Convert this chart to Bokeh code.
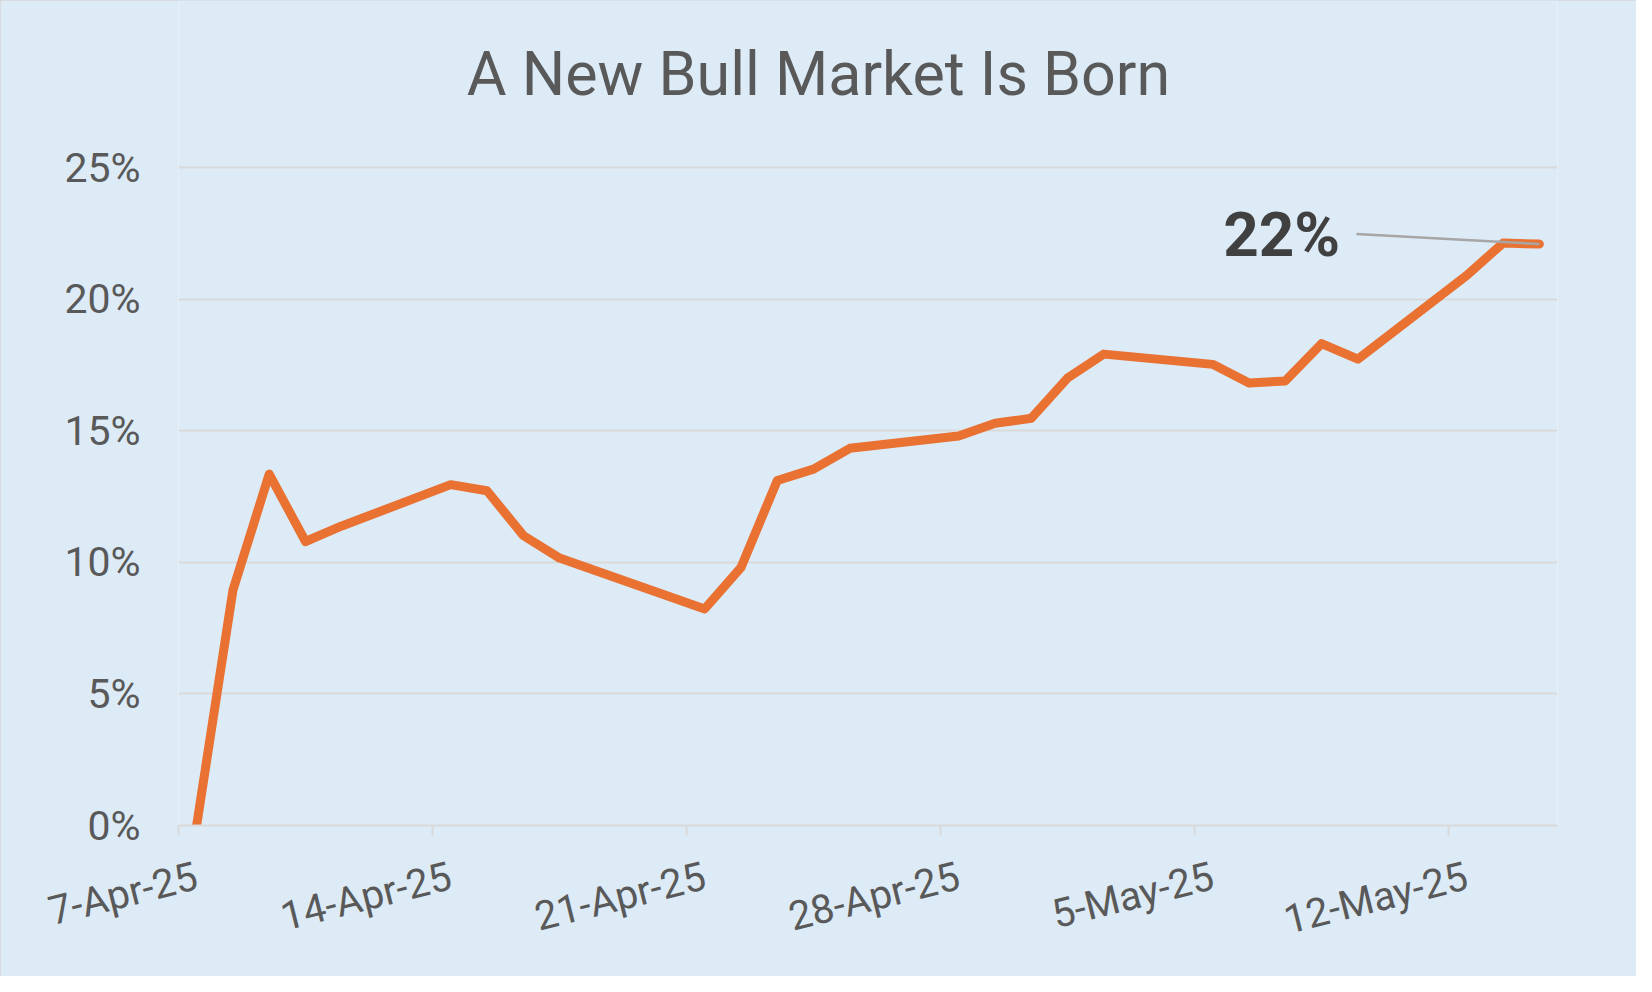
import pandas as pd
from bokeh.plotting import figure
from bokeh.models import FixedTicker, Range1d, DatetimeAxis
from bokeh.core.properties import value
from bokeh.embed import file_html
from bokeh.resources import INLINE
import math

# ---- data ----
dates = ["2025-04-07", "2025-04-08", "2025-04-09", "2025-04-10", "2025-04-11",
         "2025-04-14", "2025-04-15", "2025-04-16", "2025-04-17",
         "2025-04-21", "2025-04-22", "2025-04-23", "2025-04-24", "2025-04-25",
         "2025-04-28", "2025-04-29", "2025-04-30", "2025-05-01", "2025-05-02",
         "2025-05-05", "2025-05-06", "2025-05-07", "2025-05-08", "2025-05-09",
         "2025-05-12", "2025-05-13", "2025-05-14"]
gain_pct = [0.0, 8.94, 13.35, 10.79, 11.38,
            12.95, 12.72, 11.02, 10.16,
            8.23, 9.80, 13.11, 13.54, 14.33,
            14.80, 15.28, 15.47, 17.00, 17.91,
            17.52, 16.81, 16.89, 18.31, 17.72,
            20.90, 22.13, 22.09]
tick_dates = ["2025-04-07", "2025-04-14", "2025-04-21", "2025-04-28", "2025-05-05", "2025-05-12"]
tick_labels = ["7-Apr-25", "14-Apr-25", "21-Apr-25", "28-Apr-25", "5-May-25", "12-May-25"]
y_ticks = [0, 5, 10, 15, 20, 25]
y_tick_labels = ["0%", "5%", "10%", "15%", "20%", "25%"]
title_text = "A New Bull Market Is Born"
axis_start, axis_end = "2025-04-07", "2025-05-15"

FONT = "Roboto"
BG = "#DDEBF7"
GRID = "#D9D9D9"
ORANGE = "#E97132"
TXT = "#595959"
EDGE = "#D4D6D9"

def ms(d):
    return pd.Timestamp(d).value / 1e6

# Excel date axis: each day's point (and label) sits in the middle of its day slot
half_day = 12 * 3600 * 1000
day = 2 * half_day
xs = [ms(d) + half_day for d in dates]
ys = [v / 100 for v in gain_pct]

# ---- layout (pixels) ----
W, H = 1636, 976
ML, MR, MB = 178, 79, 151
PLOT_TOP = 167          # where the 25% gridline sits
TITLE_CY = 73           # vertical centre of the chart title
frame_h = H - MB        # the frame reaches the top edge; the title lives in its upper band
y_max = y_ticks[-1] / 100
y_top = y_max * frame_h / (frame_h - PLOT_TOP)
x0, x1 = ms(axis_start), ms(axis_end)

p = figure(width=W, height=H, x_axis_type="datetime", output_backend="svg",
           toolbar_location=None,
           x_range=Range1d(x0, x1), y_range=Range1d(0, y_top),
           min_border_left=ML, min_border_right=MR,
           min_border_top=0, min_border_bottom=MB)
p.background_fill_color = BG
p.border_fill_color = BG
p.outline_line_color = None
p.styles = {"outline": f"2px solid {EDGE}", "outline-offset": "-2px"}

# chart title, centred over the whole chart
title_x = x0 + (W / 2 - ML) / (W - ML - MR) * (x1 - x0)
title_y = y_top * (1 - TITLE_CY / frame_h)
p.text(x=[title_x], y=[title_y], text=[title_text], text_font=value(FONT),
       text_font_size="61px", text_color=TXT, text_align="center",
       text_baseline="middle")

# grid
p.xgrid.grid_line_color = None
p.ygrid.grid_line_color = GRID
p.ygrid.grid_line_width = 2
p.ygrid.ticker = FixedTicker(ticks=[v / 100 for v in y_ticks])

# x axis: line + tick marks at week boundaries
xt = [ms(d) for d in tick_dates]
p.xaxis.ticker = FixedTicker(ticks=xt)
p.xaxis.major_label_overrides = {v: "" for v in xt}
p.xaxis.major_label_text_font_size = "0px"
p.xaxis.major_label_standoff = 0
p.xaxis.axis_line_color = GRID
p.xaxis.axis_line_width = 2
p.xaxis.major_tick_line_color = GRID
p.xaxis.major_tick_line_width = 2
p.xaxis.major_tick_out = 10
p.xaxis.major_tick_in = 0
p.xaxis.minor_tick_line_color = None

# x labels: anchored at the centre of the labelled day
xl = [v + half_day for v in xt]
lab_axis = DatetimeAxis(ticker=FixedTicker(ticks=xl),
                        major_label_overrides={v: lab for v, lab in zip(xl, tick_labels)},
                        major_label_orientation=math.radians(14),
                        axis_line_color=None, major_tick_line_color=None,
                        minor_tick_line_color=None,
                        major_label_text_font=FONT, major_label_text_font_size="40px",
                        major_label_text_color=TXT, major_label_standoff=34)
p.add_layout(lab_axis, "below")

# y axis
yt = [v / 100 for v in y_ticks]
p.yaxis.ticker = FixedTicker(ticks=yt)
p.yaxis.major_label_overrides = {v: lab for v, lab in zip(yt, y_tick_labels)}
p.yaxis.axis_line_color = None
p.yaxis.major_tick_line_color = None
p.yaxis.minor_tick_line_color = None
p.yaxis.major_label_text_font = FONT
p.yaxis.major_label_text_font_size = "41px"
p.yaxis.major_label_text_color = TXT
p.yaxis.major_label_standoff = 32

# series
p.line(xs, ys, line_color=ORANGE, line_width=9, line_join="round", line_cap="round")

# end-point label with leader line
p.segment(x0=[xs[-1] - 5.04 * day], y0=[ys[-1] + 0.0038], x1=[xs[-1]], y1=[ys[-1]],
          line_color="#A6A6A6", line_width=2.5)
p.text(x=[xs[-1] - 7.1 * day], y=[ys[-1] + 0.0036], text=[f"{round(gain_pct[-1])}%"],
       text_font=value(FONT), text_font_style="bold", text_font_size="62px",
       text_color="#404040", text_align="center", text_baseline="middle")

open("out.html", "w").write(file_html(p, INLINE))
